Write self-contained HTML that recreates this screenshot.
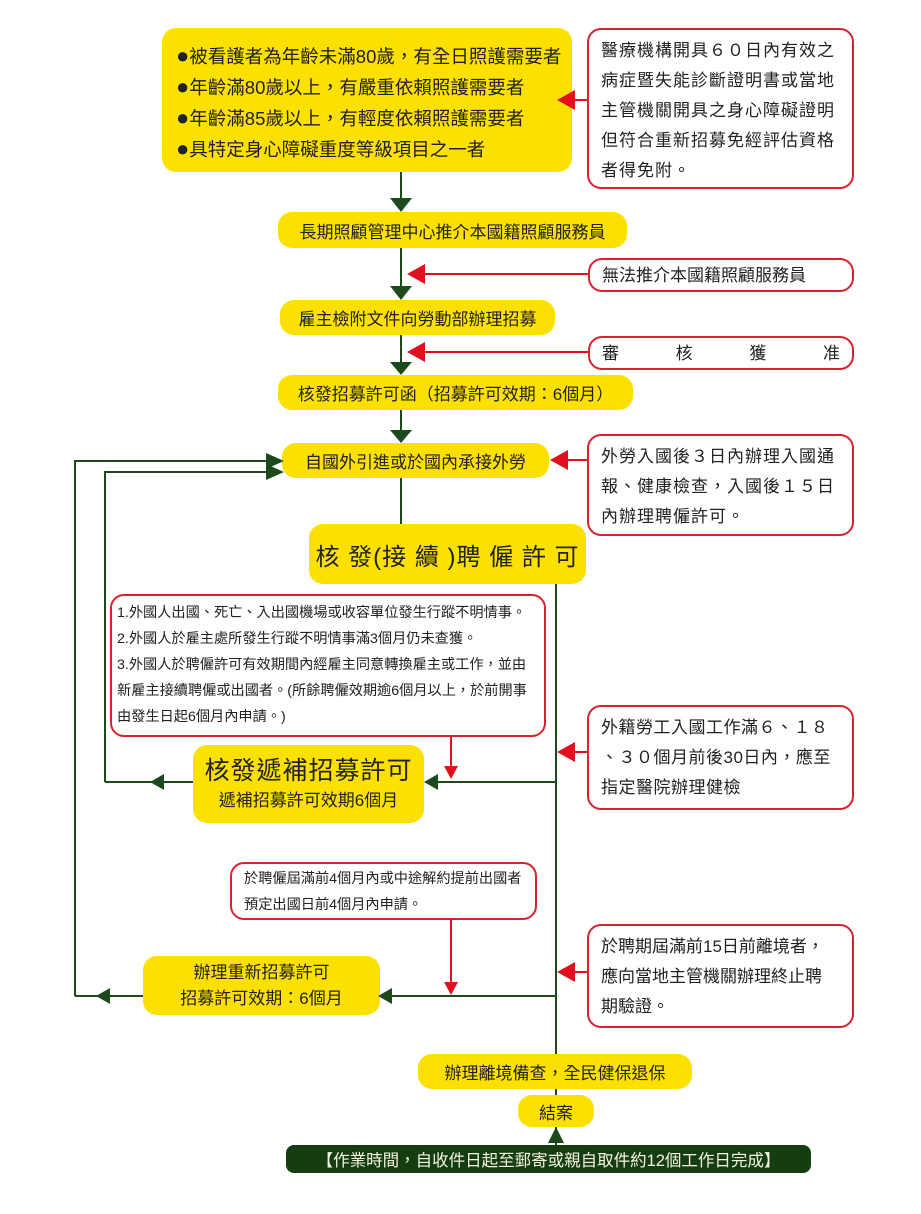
<!DOCTYPE html>
<html><head><meta charset="utf-8"><style>
body{margin:0;width:921px;height:1214px;background:#fff;position:relative;overflow:hidden;font-family:"Liberation Sans","Noto Sans CJK TC",sans-serif;color:#222}
.y{position:absolute;background:#fbe000;border-radius:14px;display:flex;align-items:center;justify-content:center;font-size:17px;white-space:nowrap;color:#222;text-align:center}
.r{position:absolute;border:2px solid #d9222e;border-radius:14px;background:#fff;box-sizing:border-box;font-size:17px;line-height:30px;padding:6px 12px;color:#222;white-space:nowrap}
.s{font-size:14.2px;line-height:26px;padding:4px 5px}
svg{position:absolute;left:0;top:0;z-index:2}
</style></head><body>
<svg width="921" height="1214">
<g stroke="#1c4a1c" stroke-width="2" fill="none">
<line x1="401" y1="172" x2="401" y2="200"/>
<line x1="401" y1="248" x2="401" y2="288"/>
<line x1="401" y1="335" x2="401" y2="364"/>
<line x1="401" y1="410" x2="401" y2="432"/>
<line x1="401" y1="478" x2="401" y2="524"/>
<line x1="556" y1="584" x2="556" y2="1054"/>
<line x1="556" y1="1089" x2="556" y2="1095"/>
<line x1="556" y1="1127" x2="556" y2="1145"/>
<line x1="556" y1="782" x2="436" y2="782"/>
<line x1="193" y1="782" x2="105" y2="782"/>
<polyline points="105,782 105,472 270,472"/>
<line x1="556" y1="996" x2="392" y2="996"/>
<line x1="143" y1="996" x2="75" y2="996"/>
<polyline points="75,996 75,461 270,461"/>
</g>
<g fill="#1c4a1c">
<polygon points="390,198 412,198 401,212"/>
<polygon points="390,286 412,286 401,300"/>
<polygon points="390,362 412,362 401,375"/>
<polygon points="390,430 412,430 401,443"/>
<polygon points="424,782 438,774 438,790"/>
<polygon points="150,782 164,774 164,790"/>
<polygon points="284,472 266,464 266,480"/>
<polygon points="284,461 266,453 266,469"/>
<polygon points="378,996 392,988 392,1004"/>
<polygon points="96,996 110,988 110,1004"/>
<polygon points="556,1127 548,1143 564,1143"/>
</g>
<g stroke="#e0101e" stroke-width="2" fill="none">
<line x1="587" y1="100" x2="570" y2="100"/>
<line x1="588" y1="274" x2="420" y2="274"/>
<line x1="588" y1="352" x2="420" y2="352"/>
<line x1="587" y1="460" x2="565" y2="460"/>
<line x1="587" y1="752" x2="570" y2="752"/>
<line x1="587" y1="972" x2="570" y2="972"/>
<line x1="451" y1="736" x2="451" y2="768"/>
<line x1="451" y1="919" x2="451" y2="984"/>
</g>
<g fill="#e0101e">
<polygon points="557,100 575,90 575,110"/>
<polygon points="407,274 425,264 425,284"/>
<polygon points="407,352 425,342 425,362"/>
<polygon points="550,460 568,450 568,470"/>
<polygon points="557,752 575,742 575,762"/>
<polygon points="557,972 575,962 575,982"/>
<polygon points="444,766 458,766 451,779"/>
<polygon points="444,982 458,982 451,995"/>
</g>
</svg>
<div class="y" style="left:162px;top:28px;width:410px;height:144px;justify-content:flex-start;padding-left:14px;padding-top:6px;box-sizing:border-box;line-height:30px;font-size:18.5px;text-align:left"><div><span style="font-size:22px">●</span>被看護者為年齡未滿80歲，有全日照護需要者<br><span style="font-size:22px">●</span>年齡滿80歲以上，有嚴重依賴照護需要者<br><span style="font-size:22px">●</span>年齡滿85歲以上，有輕度依賴照護需要者<br><span style="font-size:22px">●</span>具特定身心障礙重度等級項目之一者</div></div>
<div class="r" style="left:587px;top:28px;width:267px;height:161px;letter-spacing:1px">醫療機構開具６０日內有效之<br>病症暨失能診斷證明書或當地<br>主管機關開具之身心障礙證明<br>但符合重新招募免經評估資格<br>者得免附。</div>
<div class="y" style="left:278px;top:212px;width:349px;height:36px">長期照顧管理中心推介本國籍照顧服務員</div>
<div class="r" style="left:588px;top:258px;width:266px;height:34px;line-height:20px">無法推介本國籍照顧服務員</div>
<div class="y" style="left:280px;top:300px;width:275px;height:35px">雇主檢附文件向勞動部辦理招募</div>
<div class="r" style="left:588px;top:336px;width:266px;height:34px;line-height:20px;display:flex;justify-content:space-between"><span>審</span><span>核</span><span>獲</span><span>准</span></div>
<div class="y" style="left:278px;top:375px;width:355px;height:35px">核發招募許可函（招募許可效期：6個月）</div>
<div class="y" style="left:282px;top:443px;width:267px;height:35px">自國外引進或於國內承接外勞</div>
<div class="r" style="left:587px;top:434px;width:267px;height:102px;letter-spacing:1px">外勞入國後３日內辦理入國通<br>報、健康檢查，入國後１５日<br>內辦理聘僱許可。</div>
<div class="y" style="left:309px;top:524px;width:277px;height:60px;font-size:24px;letter-spacing:1px">核 發(接 續 )聘 僱 許 可</div>
<div class="r s" style="left:110px;top:594px;width:436px;height:143px">1.外國人出國、死亡、入出國機場或收容單位發生行蹤不明情事。<br>2.外國人於雇主處所發生行蹤不明情事滿3個月仍未查獲。<br>3.外國人於聘僱許可有效期間內經雇主同意轉換雇主或工作，並由<br>新雇主接續聘僱或出國者。(所餘聘僱效期逾6個月以上，於前開事<br>由發生日起6個月內申請。)</div>
<div class="y" style="left:193px;top:745px;width:231px;height:78px;flex-direction:column"><div style="font-size:25px;line-height:34px;letter-spacing:1px">核發遞補招募許可</div><div style="font-size:17px;line-height:26px">遞補招募許可效期6個月</div></div>
<div class="r" style="left:587px;top:705px;width:267px;height:105px;letter-spacing:0.5px">外籍勞工入國工作滿６、１８<br>、３０個月前後30日內，應至<br>指定醫院辦理健檢</div>
<div class="r s" style="left:230px;top:862px;width:307px;height:58px;padding:2px 12px">於聘僱屆滿前4個月內或中途解約提前出國者<br>預定出國日前4個月內申請。</div>
<div class="y" style="left:143px;top:956px;width:237px;height:59px;flex-direction:column;line-height:26px">辦理重新招募許可<br>招募許可效期：6個月</div>
<div class="r" style="left:587px;top:924px;width:267px;height:104px">於聘期屆滿前15日前離境者，<br>應向當地主管機關辦理終止聘<br>期驗證。</div>
<div class="y" style="left:418px;top:1054px;width:274px;height:35px">辦理離境備查，全民健保退保</div>
<div class="y" style="left:518px;top:1095px;width:76px;height:32px">結案</div>
<div class="y" style="left:286px;top:1145px;width:525px;height:28px;background:#163d12;color:#f4f4e0;border-radius:8px;font-size:16.5px">【作業時間，自收件日起至郵寄或親自取件約12個工作日完成】</div>
</body></html>
